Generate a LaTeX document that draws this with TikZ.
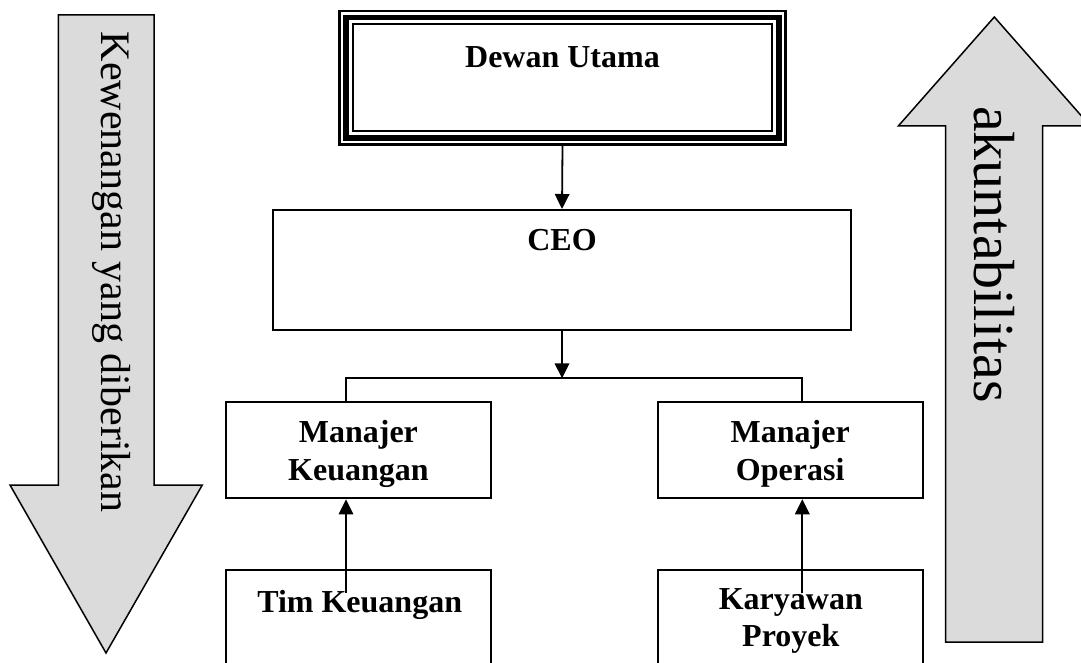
\documentclass[tikz,border=0pt]{standalone}
\usepackage{fontspec}
\setmainfont{Liberation Serif}
\usetikzlibrary{arrows.meta,calc}
\definecolor{arrowgray}{RGB}{219,219,219}
\begin{document}
\begin{tikzpicture}[x=1pt,y=-1pt,
  box/.style={draw, line width=2pt, rectangle, inner sep=0pt},
  lbl/.style={font=\bfseries\fontsize{32}{37.5}\selectfont, align=center, inner sep=0pt, anchor=base},
  conn/.style={line width=1.8pt},
  arr/.style={conn, -{Triangle[length=15pt,width=14.5pt]}},
  bigarrow/.style={draw, line width=1.5pt, fill=arrowgray, line join=miter},
  sidetext/.style={rotate=-90, anchor=base west, inner sep=0pt}
]
\useasboundingbox (0,0) rectangle (1081,663);
\clip (0,0) rectangle (1081,663);

% authority flows downwards
\draw[bigarrow] (58.3,15) -- (154,15) -- (154,485) -- (202.3,485) -- (106,653)
  -- (10,485) -- (58.3,485) -- cycle;
\node[sidetext, font=\fontsize{42}{50}\selectfont] (kw) at (101,31.7) {Kewenangan yang diberikan};

% accountability flows upwards
\draw[bigarrow] (994.3,17) -- (1090.3,126) -- (1042.7,126) -- (1042.7,642)
  -- (945.7,642) -- (945.7,126) -- (898.3,126) -- cycle;
\node[sidetext, font=\fontsize{58}{70}\selectfont] (ak) at (974,106) {akuntabilitas};

% board, with a triple frame
\node[minimum width=448.4pt, minimum height=135.7pt, inner sep=0pt] (dewan) at (562.5,77.85) {};
\draw[line width=2.7pt] ($(dewan.north west)+(1.35,1.35)$) rectangle ($(dewan.south east)+(-1.35,-1.35)$);
\draw[line width=5.6pt] ($(dewan.north west)+(7.9,7.9)$) rectangle ($(dewan.south east)+(-7.9,-7.9)$);
\draw[line width=2.1pt] ($(dewan.north west)+(14.6,14.6)$) rectangle ($(dewan.south east)+(-14.6,-14.6)$);
\node[lbl] (dewan-t) at (562.5,68) {Dewan Utama};

% executive
\node[box, minimum width=578pt, minimum height=120pt] (ceo) at (562,270) {};
\node[lbl] (ceo-t) at (562,250.7) {CEO};

% managers (anchor is the baseline of the last line)
\node[box, minimum width=264.7pt, minimum height=96.6pt] (mk) at (358.4,450) {};
\node[lbl] (mk-t) at (358.4,480) {Manajer\\Keuangan};
\node[box, minimum width=264.7pt, minimum height=96.6pt] (mo) at (790.2,450) {};
\node[lbl] (mo-t) at (790.2,480) {Manajer\\Operasi};

% staff
\node[box, minimum width=264.7pt, minimum height=150pt] (tk) at (358.4,645) {};
\node[lbl] (tk-t) at (359.7,612.7) {Tim Keuangan};
\node[box, minimum width=264.7pt, minimum height=150pt] (kp) at (790.2,645) {};
\node[lbl] (kp-t) at (790.8,646.7) {Karyawan\\Proyek};

% connectors
\coordinate (busM) at (562,378.3);
\coordinate (busL) at (346,378.3);
\coordinate (busR) at (802.3,378.3);
\coordinate (tkA) at (346,593);
\coordinate (kpA) at (802.3,593);

\draw[arr] (dewan.south) -- (ceo.north);
\draw[arr] (ceo.south) -- (busM);
\draw[conn] (busL |- mk.north) -- (busL) -- (busR) -- (busR |- mo.north);
\draw[arr] (tkA) -- (tkA |- mk.south);
\draw[arr] (kpA) -- (kpA |- mo.south);
\end{tikzpicture}
\end{document}
